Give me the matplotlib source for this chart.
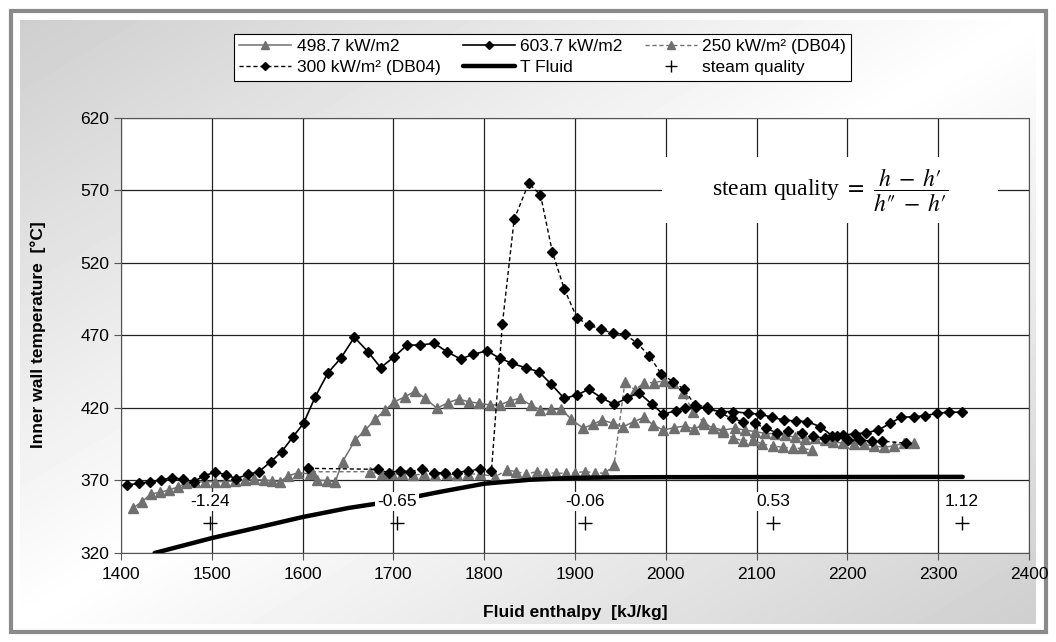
import matplotlib
matplotlib.use('Agg')
import matplotlib.pyplot as plt
import numpy as np
from matplotlib.patches import Rectangle

# measured wall temperatures
h_4987 = [1413, 1423, 1433, 1443, 1453, 1463, 1472, 1482, 1493, 1504,
          1515, 1526, 1537, 1546, 1557, 1566, 1575, 1584, 1595, 1608,
          1616, 1627, 1636, 1644, 1658, 1669, 1680, 1691, 1701, 1713,
          1724, 1735, 1748, 1760, 1772, 1783, 1794, 1806, 1817, 1828,
          1839, 1851, 1862, 1874, 1885, 1896, 1909, 1920, 1930, 1942,
          1953, 1965, 1976, 1986, 1997, 2009, 2021, 2031, 2042, 2052,
          2063, 2076, 2087, 2098, 2109, 2120, 2131, 2142, 2153, 2164,
          2175, 2184, 2195, 2207, 2218, 2229, 2240, 2251, 2262, 2273]
T_4987 = [350.8, 355.4, 360.7, 361.9, 363.4, 365.7, 368.1, 368.8, 369.2, 369.2,
          369.2, 369.7, 370.3, 370.8, 370.3, 369.9, 369.2, 373.1, 375.4, 374.5,
          370.3, 369.9, 369.2, 383.0, 397.9, 404.8, 412.2, 418.6, 424.3, 427.8,
          431.7, 426.7, 419.8, 423.7, 426.2, 424.3, 423.3, 422.1, 422.1, 424.8,
          426.7, 422.1, 418.6, 419.1, 419.1, 412.2, 406.0, 408.9, 411.7, 409.4,
          407.1, 410.6, 413.6, 408.3, 404.8, 406.4, 407.6, 405.5, 408.7, 406.4,
          404.8, 406.0, 404.8, 403.7, 402.6, 402.1, 401.4, 399.8, 398.4, 399.1,
          397.9, 396.8, 395.7, 395.2, 395.0, 393.8, 392.9, 393.8, 395.7, 395.7]

h_6037 = [1407, 1420, 1432, 1444, 1456, 1468, 1480, 1491, 1504, 1516,
          1527, 1540, 1552, 1565, 1577, 1589, 1601, 1614, 1628, 1642,
          1657, 1672, 1686, 1701, 1715, 1729, 1745, 1759, 1774, 1788,
          1803, 1817, 1831, 1846, 1860, 1874, 1888, 1902, 1915, 1929,
          1943, 1957, 1970, 1985, 1997, 2011, 2021, 2033, 2047, 2061,
          2074, 2091, 2104, 2117, 2130, 2143, 2156, 2170, 2183, 2195,
          2208, 2221, 2234, 2247, 2259, 2273, 2286, 2299, 2312, 2326]
T_6037 = [366.9, 368.1, 369.2, 370.3, 371.9, 370.8, 369.2, 373.1, 375.9, 373.8,
          371.3, 374.3, 376.1, 383.0, 389.9, 399.8, 409.4, 427.8, 444.3, 454.3,
          468.8, 458.8, 447.8, 455.4, 463.4, 463.4, 464.6, 458.8, 453.8, 457.0,
          459.5, 454.3, 450.8, 447.6, 445.1, 436.3, 426.7, 428.9, 432.9, 427.1,
          422.5, 426.7, 430.6, 422.5, 415.7, 418.1, 420.0, 420.9, 419.1, 417.5,
          417.5, 416.4, 415.7, 413.6, 411.7, 411.0, 410.6, 407.1, 401.0, 401.5,
          402.0, 403.0, 404.8, 409.4, 413.6, 414.0, 414.7, 416.4, 417.1, 417.1]

# DB04 data
h_250 = [1610, 1674, 1687, 1698, 1710, 1722, 1734, 1746, 1759, 1770,
         1782, 1795, 1812, 1825, 1835, 1846, 1858, 1868, 1879, 1890,
         1900, 1911, 1922, 1933, 1943, 1955, 1966, 1976, 1987, 1998,
         2008, 2019, 2030, 2041, 2052, 2063, 2074, 2085, 2096, 2106,
         2118, 2129, 2140, 2150, 2161]
T_250 = [376.0, 376.1, 374.5, 374.5, 374.5, 373.8, 374.5, 373.8, 374.5, 373.8,
         374.5, 374.5, 372.6, 377.2, 376.1, 374.5, 376.1, 375.4, 375.0, 375.0,
         375.4, 376.1, 375.4, 375.0, 380.7, 438.2, 432.4, 437.5, 437.5, 438.8,
         437.1, 430.6, 417.5, 410.6, 406.0, 403.7, 399.1, 397.5, 397.9, 395.2,
         393.8, 392.9, 392.2, 392.2, 391.0]

h_300 = [1606, 1683, 1695, 1707, 1718, 1731, 1745, 1757, 1770, 1782,
         1795, 1808, 1820, 1833, 1849, 1862, 1875, 1888, 1902, 1915,
         1929, 1942, 1955, 1968, 1982, 1995, 2008, 2020, 2032, 2045,
         2060, 2073, 2085, 2098, 2110, 2122, 2135, 2150, 2162, 2175,
         2188, 2201, 2214, 2227, 2238, 2265]
T_300 = [378.4, 377.7, 375.4, 376.8, 376.1, 377.7, 375.4, 375.4, 375.4, 376.8,
         377.7, 376.5, 477.9, 550.1, 575.0, 566.9, 527.8, 502.4, 482.3, 477.2,
         474.3, 471.5, 470.8, 465.0, 455.9, 443.4, 438.2, 433.0, 422.1, 420.9,
         416.4, 412.9, 410.6, 409.4, 406.0, 403.0, 404.4, 403.0, 400.7, 399.1,
         400.7, 397.9, 397.9, 397.2, 397.2, 395.7]

h_fluid = [1437, 1500, 1550, 1600, 1650, 1700, 1750, 1800, 1850, 1900, 1950, 2000, 2327]
T_fluid = [320, 330.3, 337.5, 344.8, 351.0, 355.8, 362.0, 367.8, 370.5, 371.8, 372.2, 372.3, 372.5]

h_quality = [1498, 1704, 1911, 2118, 2326]
quality_labels = ['-1.24', '-0.65', '-0.06', '0.53', '1.12']

plt.rcParams['font.family'] = ['Liberation Sans', 'DejaVu Sans']
plt.rcParams['mathtext.fontset'] = 'stix'

W, H = 1056, 642
fig = plt.figure(figsize=(W / 100, H / 100), dpi=100, facecolor='white')

# gradient panel + frame behind everything
bg = fig.add_axes([0, 0, 1, 1], zorder=-10)
bg.set_xlim(0, W)
bg.set_ylim(H, 0)
bg.axis('off')
yy, xx = np.mgrid[0:1:200j, 0:1:300j]
grad = 1 - 0.19 * np.abs(xx + yy - 1)
bg.imshow(grad, cmap='gray', vmin=0, vmax=1, extent=[20, 1036, 624, 20],
          aspect='auto', interpolation='bilinear')
bg.add_patch(Rectangle((10.5, 10.5), W - 21, H - 21, fill=False, ec='#8a8a8a', lw=3))

ax = fig.add_axes([121 / W, 1 - 553 / H, 908 / W, 435 / H])
ax.set_facecolor('white')
ax.set_xlim(1400, 2400)
ax.set_ylim(320, 620)
ax.set_xticks(range(1400, 2401, 100))
ax.set_yticks(range(320, 621, 50))
ax.grid(True, color='#222222', lw=0.9)
ax.set_axisbelow(True)
for s in ax.spines.values():
    s.set_color('#555555')
ax.tick_params(direction='out', length=5, labelsize=12.5, color='#555555')
ax.tick_params(axis='x', pad=5)

# formula box
ax.add_patch(Rectangle((0.596, 0.7586), 0.37, 0.1514, transform=ax.transAxes,
                       fc='white', ec='none', zorder=1))
ax.text(0.781, 0.834, "steam quality $=\\ \\dfrac{h\\;-\\;h\u2032}{h\u2033\\;-\\;h\u2032}$",
        transform=ax.transAxes, ha='center', va='center', fontsize=17,
        family=['Liberation Serif'], zorder=2)

gray = '#707070'
l1, = ax.plot(h_4987, T_4987, color=gray, lw=1.1, marker='^', ms=6.5,
              mfc=gray, mec=gray, label='498.7 kW/m2', zorder=3)
l2, = ax.plot(h_6037, T_6037, color='black', lw=1.2, marker='D', ms=5,
              label='603.7 kW/m2', zorder=4)
l3, = ax.plot(h_250, T_250, color=gray, lw=1.0, ls=(0, (3, 2)), marker='^', ms=6.5,
              mfc=gray, mec=gray, label='250 kW/m² (DB04)', zorder=3)
l4, = ax.plot(h_300, T_300, color='black', lw=1.0, ls=(0, (3, 2)), marker='D', ms=5,
              label='300 kW/m² (DB04)', zorder=4)
l5, = ax.plot(h_fluid, T_fluid, color='black', lw=3.2, solid_capstyle='round',
              label='T Fluid', zorder=5)
l6, = ax.plot(h_quality, [340.5] * len(h_quality), ls='none', marker='+', ms=10,
              mew=1, color='black', label='steam quality', zorder=6)
for h, lab in zip(h_quality, quality_labels):
    ax.text(h, 355.5, lab, ha='center', va='center', fontsize=12.5, zorder=7,
            bbox=dict(fc='white', ec='none', pad=1.5))

handles = [l1, l4, l2, l5, l3, l6]
leg = fig.legend(handles, [h.get_label() for h in handles], loc='center',
                 bbox_to_anchor=(0.514, 0.911), ncol=3, frameon=True, fancybox=False,
                 edgecolor='black', framealpha=1, fontsize=12.5, handlelength=3,
                 columnspacing=1.3, borderpad=0.3, labelspacing=0.35, handletextpad=0.3,
                 markerscale=0.85)
leg.get_frame().set_linewidth(0.8)

fig.text(575 / W, 1 - 612 / H, 'Fluid enthalpy  [kJ/kg]', ha='center', va='center',
         fontsize=12.5, fontweight='bold')
fig.text(38 / W, 1 - 335 / H, 'Inner wall temperature  [°C]', ha='center', va='center',
         rotation=90, fontsize=12.5, fontweight='bold')

fig.savefig('out.png', dpi=100)
